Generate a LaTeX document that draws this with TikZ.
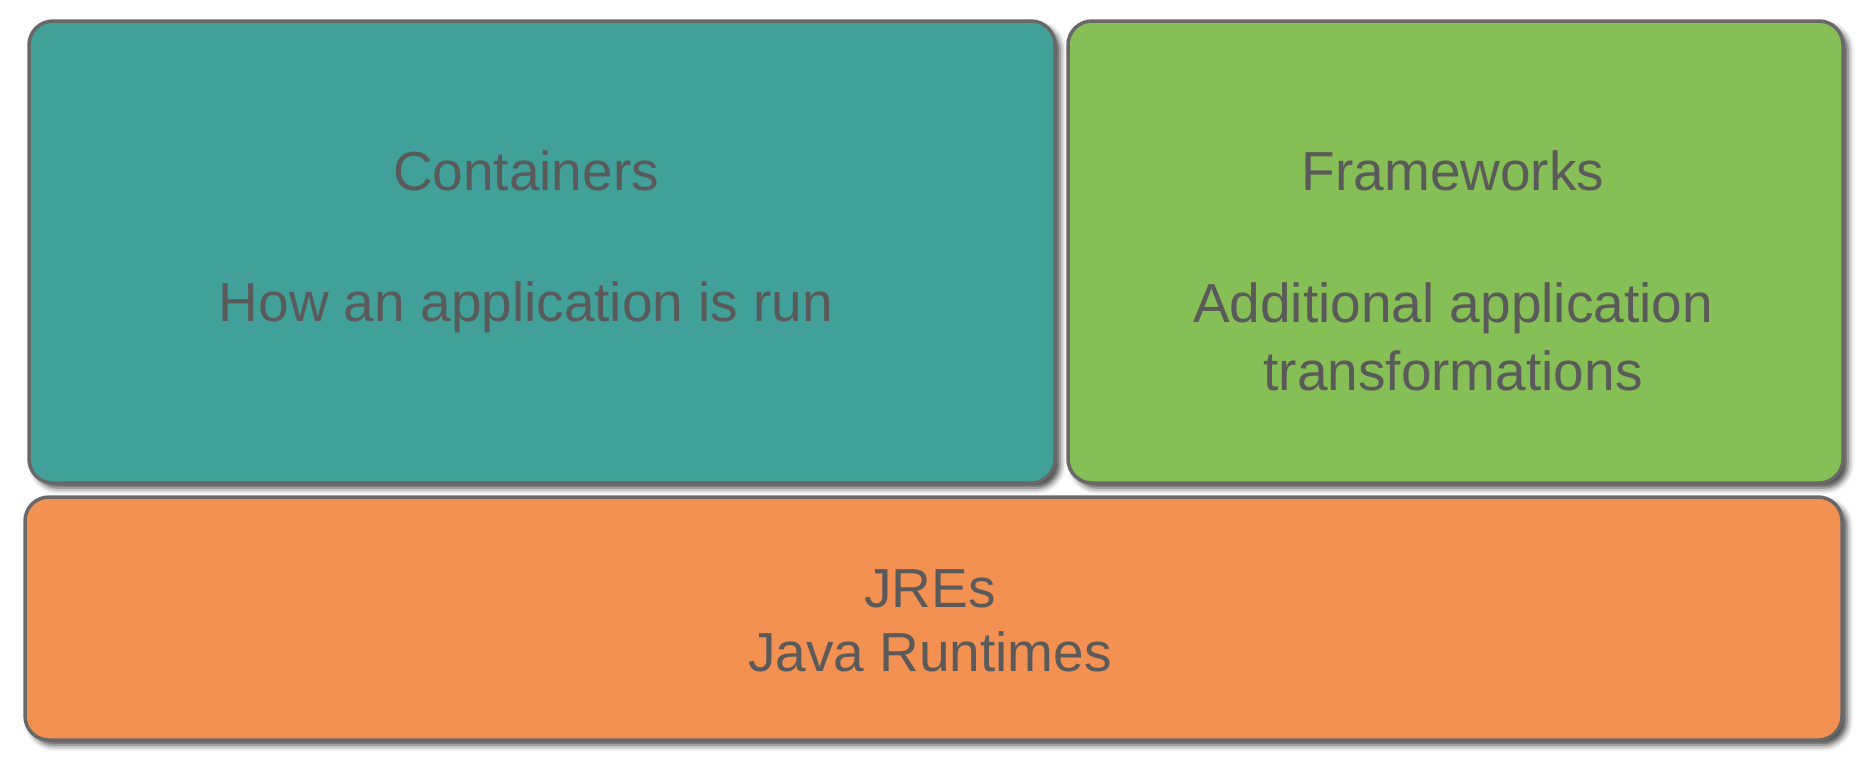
\documentclass[tikz,border=0pt]{standalone}
\usepackage{fontspec}
\setmainfont{Liberation Sans}
\usetikzlibrary{shadows.blur}
\definecolor{tealbox}{HTML}{41A09A}
\definecolor{greenbox}{HTML}{86BF56}
\definecolor{orangebox}{HTML}{F39153}
\definecolor{edge}{HTML}{686868}
\definecolor{txtgray}{HTML}{5A5A5A}
\tikzset{
  layer/.style={draw=edge,line width=3.5pt,rounded corners=24pt,
    blur shadow={shadow xshift=5pt,shadow yshift=-5pt,shadow blur radius=6pt,shadow opacity=75}},
  word/.style={anchor=base,inner sep=0pt,text=txtgray,font=\fontsize{55}{66}\selectfont}
}
\begin{document}
\begin{tikzpicture}[x=1pt,y=-1pt]
      \useasboundingbox (0,0) rectangle (1866,766);

      \node[layer,fill=tealbox,minimum width=1026pt,minimum height=462pt] (C) at (542,252) {};
      \node[layer,fill=greenbox,minimum width=775pt,minimum height=462pt] (F) at (1455.5,252) {};
      \node[layer,fill=orangebox,minimum width=1817pt,minimum height=243pt] (J) at (933.5,618.5) {};

      \node[word] (C1) at (526,190) {Containers};
      \node[word] (C2) at (526,321) {How an application is run};

      \node[word] (F1) at (1453,190) {Frameworks};
      \node[word] (F2) at (1453,322) {Additional application};
      \node[word] (F3) at (1453,390) {transformations};

      \node[word] (J1) at (930,607) {JREs};
      \node[word] (J2) at (930,671) {Java Runtimes};
    \end{tikzpicture}
\end{document}
